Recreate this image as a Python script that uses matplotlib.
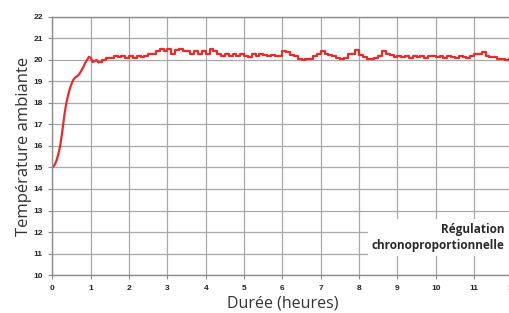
import numpy as np
import matplotlib.pyplot as plt

# Montée en température (pas de 0.05 h)
heures_montee = np.arange(0, 1.2, 0.05)
temp_montee = [15.0, 15.1, 15.3, 15.6, 16.0, 16.6, 17.3, 17.9, 18.3, 18.65,
               18.9, 19.1, 19.2, 19.25, 19.35, 19.5, 19.65, 19.85, 20.0, 20.15,
               20.1, 19.9, 19.95, 20.0]

# Régulation (pas de 0.1 h)
heures_regul = np.round(np.arange(1.2, 12.0, 0.1), 2)
temp_regul = [19.9, 20.0, 20.1, 20.1, 20.2, 20.15, 20.2, 20.1, 20.2,
              20.1, 20.2, 20.15, 20.2, 20.3, 20.3, 20.4, 20.5, 20.4, 20.5,
              20.3, 20.45, 20.5, 20.4, 20.4, 20.3, 20.4, 20.3, 20.4, 20.3,
              20.5, 20.4, 20.3, 20.2, 20.3, 20.2, 20.3, 20.2, 20.3, 20.2,
              20.15, 20.3, 20.2, 20.3, 20.25, 20.2, 20.25, 20.2, 20.2, 20.4,
              20.35, 20.25, 20.2, 20.05, 20.0, 20.05, 20.05, 20.2, 20.3, 20.4,
              20.3, 20.25, 20.2, 20.1, 20.05, 20.1, 20.3, 20.3, 20.45, 20.25,
              20.15, 20.05, 20.05, 20.1, 20.2, 20.4, 20.3, 20.25, 20.15, 20.2,
              20.15, 20.2, 20.1, 20.2, 20.15, 20.2, 20.1, 20.2, 20.2, 20.15,
              20.2, 20.1, 20.2, 20.15, 20.1, 20.2, 20.15, 20.1, 20.2, 20.3,
              20.3, 20.35, 20.2, 20.15, 20.15, 20.05, 20.05, 20.0, 20.05]

x_ticks = list(range(0, 13))
y_ticks = list(range(10, 23))

fig = plt.figure(figsize=(5.1, 3.13), dpi=100)
ax = fig.add_axes([0.1029, 0.1214, 0.902, 0.8243])

rouge = '#ec2a2a'
# montée : tracé continu, raccordé au premier point de régulation
ax.plot(np.append(heures_montee, heures_regul[0]),
        np.append(temp_montee, temp_regul[0]), color=rouge, lw=1.6)
ax.plot(heures_regul, temp_regul, color=rouge, lw=1.6, drawstyle='steps-post')

ax.set_xlim(0, 12)
ax.set_ylim(10, 22)
ax.set_xticks(x_ticks)
ax.set_yticks(y_ticks)
ax.grid(color='#a8a8a8', lw=0.9)
ax.set_axisbelow(True)

ax.spines['right'].set_visible(False)
for s in ['left', 'bottom', 'top']:
    ax.spines[s].set_color('#8c8c8c')
    ax.spines[s].set_linewidth(1.0)

ax.tick_params(length=3, color='#8c8c8c', pad=4)
for lab in ax.get_xticklabels() + ax.get_yticklabels():
    lab.set_fontfamily('Liberation Sans')
    lab.set_fontweight('bold')
    lab.set_fontsize(6)
    lab.set_color('#222222')

ax.set_xlabel('Durée (heures)', fontfamily='Open Sans', fontsize=11.5,
              color='#333333', labelpad=3)
ax.set_ylabel('Température ambiante', fontfamily='Open Sans', fontsize=12,
              color='#333333', labelpad=1)

ax.text(11.8, 11.75, 'Régulation\nchronoproportionnelle', ha='right',
        va='center', multialignment='right', fontfamily='Open Sans',
        fontweight='bold', fontsize=8.5, color='#2a2a2a', linespacing=1.25,
        bbox=dict(fc='white', ec='none', pad=3))

fig.savefig('out.png', dpi=100)
